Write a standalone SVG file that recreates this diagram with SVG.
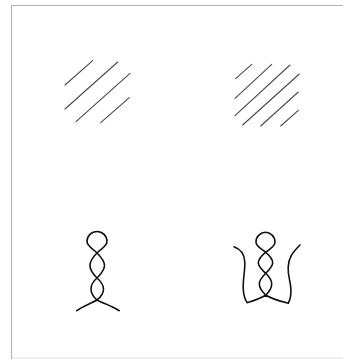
<svg xmlns="http://www.w3.org/2000/svg" width="343" height="359" viewBox="0 0 343 359">
  <style>
    .frame { stroke: #b4b4b4; stroke-width: 1.2; fill: none; }
    .hatch { stroke: #4a4a4a; stroke-width: 1.1; stroke-linecap: round; fill: none; }
    .braid { stroke: #111; stroke-width: 1.6; stroke-linecap: round; stroke-linejoin: round; fill: none; }
  </style>
  <rect width="343" height="359" fill="#ffffff"/>

  <!-- frame -->
  <g id="frame">
    <line class="frame" x1="11.5" y1="5.5" x2="343" y2="5.5"/>
    <line class="frame" x1="11.5" y1="5" x2="11.5" y2="359"/>
    <line class="frame" x1="11.5" y1="358" x2="343" y2="358" stroke-opacity="0.4"/>
  </g>

  <!-- four parallel strokes -->
  <g id="hatch-four">
    <line class="hatch" x1="65" y1="85" x2="92.7" y2="60.7"/>
    <line class="hatch" x1="65" y1="109" x2="117.7" y2="62"/>
    <line class="hatch" x1="76" y1="121.7" x2="130" y2="73.3"/>
    <line class="hatch" x1="100.7" y1="122.7" x2="129.3" y2="97.7"/>
  </g>

  <!-- six parallel strokes -->
  <g id="hatch-six">
    <line class="hatch" x1="235.7" y1="78.7" x2="251.7" y2="64.3"/>
    <line class="hatch" x1="235" y1="98.3" x2="271.7" y2="64.3"/>
    <line class="hatch" x1="235" y1="115.7" x2="290" y2="65"/>
    <line class="hatch" x1="242.7" y1="125" x2="299.3" y2="74"/>
    <line class="hatch" x1="260.7" y1="126" x2="298.3" y2="92"/>
    <line class="hatch" x1="280.7" y1="126" x2="298.3" y2="110.3"/>
  </g>

  <!-- twisted pair with splayed ends -->
  <g id="braid-open">
    <path class="braid" d="M76.7,310.7 C85,305 92,303 97,300 C101.5,296.5 103.5,292.5 103.5,289 C103.5,284.5 100.5,281 97,278 C93,274 90,270 90,265.5 C90,260.5 93.5,256.5 97,253 C101,249 107,246 107,241.5 C107,236 102.5,231.5 97,231.5 C91.5,231.5 87,236 87,241.5 C87,246 93,249 97,253 C100.5,256.5 104.5,260.5 104.5,265.5 C104.5,270 101,274 97,278 C93.5,281 91,284.5 91,289 C91,292.5 93,296.5 97,300 C102,303 110,305 119.3,310.7"/>
  </g>

  <!-- twisted pair with raised arms -->
  <g id="braid-cup">
    <path class="braid" d="M234,246.7 C240.5,249 244.5,253 244.8,262 C245.1,272 242.5,281 243.3,290 C243.8,296 245.5,300.5 247.3,302.7 C254,300.5 260.5,298.5 265.7,295 C269.5,291.5 271.7,288 271.7,284 C271.7,279.5 269,276.5 265.7,273.3 C261.5,269.5 258.3,266.5 258.3,262.8 C258.3,258.5 262,255.5 265.7,252.3 C270.5,248.5 275,246.5 275,242 C275,236.5 270.5,232.3 265.5,232.3 C260.5,232.3 256,236.5 256,242 C256,246.5 261,248.5 265.7,252.3 C269.5,255.5 272.7,258.5 272.7,262.8 C272.7,266.5 269.5,269.5 265.7,273.3 C262.5,276.5 259.3,279.5 259.3,284 C259.3,288 262,291.5 265.7,295 C271,298.5 281,301.5 288.3,303.3 C290,300 291.5,294 290.7,286.7 C289.8,279 287.8,275 288.2,267 C288.6,258 292,253 300,245"/>
  </g>
</svg>
